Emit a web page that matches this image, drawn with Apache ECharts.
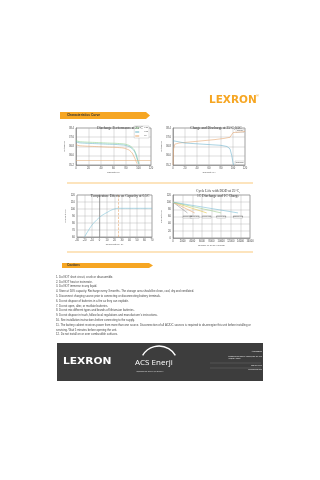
<!DOCTYPE html>
<html><head><meta charset="utf-8">
<script src="https://cdn.jsdelivr.net/npm/echarts@6/dist/echarts.min.js"></script>
<style>html,body{margin:0;padding:0;background:#fff}#c{width:320px;height:480px}</style>
</head><body><div id="c"></div>
<script>
// ---- data ----
const dis02 = [[0,37.35],[3,37.25],[10,37.2],[30,37.15],[50,37.1],[70,37.05],[82,36.95],[90,36.7],[95,36.3],[99,35.6],[101,35.3]];
const dis05 = [[0,37.25],[3,37.15],[10,37.1],[30,37.05],[50,37.0],[70,36.95],[82,36.85],[90,36.6],[95,36.2],[99,35.5],[100,35.3]];
const dis1c = [[0,37.0],[3,36.9],[10,36.85],[30,36.8],[50,36.75],[70,36.7],[80,36.6],[88,36.35],[93,35.9],[97,35.4],[98,35.3]];
const chargeCurve = [[0,35.2],[1,36.6],[3,37.0],[10,37.1],[30,37.2],[50,37.3],[70,37.4],[85,37.5],[95,37.6],[100,38.0],[102,38.1],[120,38.1]];
const dischargeCurve = [[0,37.3],[3,37.2],[20,37.1],[50,37.0],[80,36.9],[90,36.8],[95,36.6],[98,36.0],[100,35.4],[101,35.2]];
const tempCurve = [[-20,60],[-15,69],[-10,77],[-5,83],[0,88],[5,92],[10,95],[15,98],[20,100],[25,101],[30,101],[40,101],[50,101],[60,101],[70,101]];
const dodLabels = ['100%DOD','80%DOD','60%DOD','50%DOD','30%DOD'];
const dodEnd = [3000, 4500, 7000, 10000, 13500];
const dodCycleText = ['3000cycles','4500cycles','7000cycles','10000cycles','13500cycles'];
const cautions = [
'1. Do NOT short circuit, crush or disassemble.',
'2. Do NOT heat or incinerate.',
'3. Do NOT immerse in any liquid.',
'4. Store at 50% capacity. Recharge every 3 months. The storage area should be clean, cool, dry and ventilated.',
'5. Disconnect charging source prior to connecting or disconnecting battery terminals.',
'6. Do not dispose of batteries in a fire as they can explode.',
'7. Do not open, alter, or mutilate batteries.',
'8. Do not mix different types and brands of lithium-ion batteries.',
'9. Do not dispose in trash, follow local regulations and manufacturer\'s instructions.',
'10. See installation instructions before connecting to the supply.',
'11. The battery cabinet receives power from more than one source. Disconnection of all AC/DC sources is required to de-energize this unit before installing or',
'servicing. Wait 5 minutes before opening the unit.',
'12. Do not install on or over combustible surfaces.'
];
// ---- chart ----
const ORANGE = '#F6A623';
const AXF = 2.6;
const chart = echarts.init(document.getElementById('c'), null, {renderer:'canvas'});
function xa(i, min, max, interval, name){
  return {gridIndex:i, type:'value', min, max, interval, name, nameLocation:'middle', nameGap:5,
    nameTextStyle:{fontSize:2.4,color:'#555'},
    axisLine:{lineStyle:{color:'#666',width:0.5}}, axisTick:{show:false},
    axisLabel:{fontSize:AXF,color:'#444',margin:2,formatter:v=>String(v)},
    splitLine:{show:true,lineStyle:{color:'#aaa',width:0.4}}};
}
function ya(i, min, max, interval, name, fmt){
  return {gridIndex:i, type:'value', min, max, interval, name, nameLocation:'middle', nameGap:9,
    nameTextStyle:{fontSize:2.4,color:'#555'},
    axisLine:{show:true,lineStyle:{color:'#666',width:0.5}}, axisTick:{show:false},
    axisLabel:{fontSize:AXF,color:'#444',margin:2,formatter:fmt},
    splitLine:{show:true,lineStyle:{color:'#aaa',width:0.4}}};
}
const ttl = (text, left, top) => ({text, left, top, textAlign:'center',
  textStyle:{fontSize:3.6,fontWeight:'normal',fontFamily:'Liberation Serif',color:'#333',lineHeight:5}});
const ln = (x, y, name, data, color, extra) => Object.assign({type:'line', name, data, xAxisIndex:x, yAxisIndex:y,
  showSymbol:false, smooth:true, lineStyle:{color, width:0.6}, itemStyle:{color}}, extra||{});

const dodColors = ['#9a9a9a','#e8a66b','#e6c84a','#9fcf8e','#7cbfd6'];
const dodSeries = dodLabels.map((n,i)=>ln(3,3,n,[[0,100],[dodEnd[i],70]],dodColors[i],{smooth:false,
  markPoint:{symbol:'rect',symbolSize:[9,2.4],symbolOffset:[0,4],itemStyle:{color:'#fff',borderColor:'#888',borderWidth:0.3},
   label:{show:true,fontSize:1.8,color:'#444',formatter:dodCycleText[i]},data:[{coord:[dodEnd[i],70]}]}}));

const graphic = [
  {type:'text', left:209, top:95, style:{text:'LEXRON', fontSize:10.5, fontWeight:'bold', fontFamily:'DejaVu Sans', fill:ORANGE}},
  {type:'text', left:256, top:94, style:{text:'®', fontSize:4, fill:ORANGE}},
  {type:'polygon', shape:{points:[[60,112],[146,112],[150,115.5],[146,119],[60,119]]}, style:{fill:ORANGE}},
  {type:'text', left:67, top:114, style:{text:'Characteristics Curve', fontSize:3.2, fontWeight:'bold', fill:'#333'}},
  {type:'line', shape:{x1:67,y1:183,x2:253,y2:183}, style:{stroke:ORANGE,lineWidth:0.6}},
  {type:'line', shape:{x1:67,y1:252,x2:253,y2:252}, style:{stroke:ORANGE,lineWidth:0.6}},
  {type:'polygon', shape:{points:[[62,263],[149,263],[153,265.5],[149,268],[62,268]]}, style:{fill:ORANGE}},
  {type:'text', left:67, top:264, style:{text:'Cautions', fontSize:3, fontWeight:'bold', fill:'#333'}},
  {type:'rect', shape:{x:57,y:343,width:206,height:38}, style:{fill:'#3d3d3d'}},
  {type:'text', left:63, top:357, scaleX:1.12, style:{text:'LEXRON', fontSize:9.5, fontWeight:'bold', fontFamily:'DejaVu Sans', fill:'#fff'}},
  {type:'arc', shape:{cx:159,cy:365,r:19,startAngle:Math.PI*1.17,endAngle:Math.PI*1.83}, style:{stroke:'#fff',lineWidth:1.4,fill:null}},
  {type:'text', left:135, top:359, style:{text:'ACS Enerji', fontSize:8, fontFamily:'Open Sans', fill:'#fff'}},
  {type:'text', left:136, top:371, style:{text:'Yaşanabilir Bir Dünya İçin Enerjiye', fontSize:1.8, fill:'#ddd'}},
  {type:'text', right:58, top:351, style:{text:'ACS ENERJİ', fontSize:1.8, fill:'#eee', align:'right'}},
  {type:'text', right:58, top:355, style:{text:'1938/2008 Mah. Ekrem Alanlıkoç Cad. No: 14/1\nYenişehir / İZMİR', fontSize:1.6, fill:'#eee', align:'right', lineHeight:2.2}},
  {type:'line', shape:{x1:210,y1:363,x2:261,y2:363}, style:{stroke:'#888',lineWidth:0.3}},
  {type:'text', right:58, top:365, style:{text:'0232 700 00 00', fontSize:1.6, fill:'#eee', align:'right'}},
  {type:'line', shape:{x1:210,y1:368,x2:261,y2:368}, style:{stroke:'#888',lineWidth:0.3}},
  {type:'text', right:58, top:369, style:{text:'www.acsenerji.com', fontSize:1.6, fill:'#eee', align:'right'}},
  {type:'rect', shape:{x:236,y:129,width:8,height:3.5}, style:{fill:'#fff',stroke:'#999',lineWidth:0.3}},
  {type:'text', left:237, top:129.6, style:{text:'Charge', fontSize:1.8, fill:'#444'}},
  {type:'rect', shape:{x:235,y:161,width:9.5,height:3.5}, style:{fill:'#fff',stroke:'#999',lineWidth:0.3}},
  {type:'text', left:235.7, top:161.6, style:{text:'Discharge', fontSize:1.8, fill:'#444'}}
];
cautions.forEach((t,i)=>graphic.push({type:'text', left:56, top:275.5+i*4.8, style:{text:t, fontSize:2.8, fontFamily:'Liberation Sans', fill:'#444'}}));

chart.setOption({
  animation:false,
  title:[
    ttl('Discharge Performance at 25°C',115,121),
    ttl('Charge and Discharge at 25°C,0.5C',211,121),
    ttl('Temperature Effects on Capacity at 0.5C',115,189),
    ttl('Cycle Life with DOD at 25°C,\n1C Discharge and 1C Charge',213,184)
  ],
  legend:{show:true, data:['0.2C','0.5C','1C'], right:171, top:126, orient:'vertical', itemWidth:4, itemHeight:1, itemGap:2,
    padding:1, borderColor:'#999', borderWidth:0.3, backgroundColor:'#fff', textStyle:{fontSize:1.8,color:'#444'}, icon:'rect'},
  grid:[
    {left:76, top:128, width:75, height:37, show:true, borderColor:'#666', borderWidth:0.5},
    {left:173, top:128, width:72, height:37, show:true, borderColor:'#666', borderWidth:0.5},
    {left:77, top:195, width:75, height:42, show:true, borderColor:'#666', borderWidth:0.5},
    {left:173, top:195, width:77, height:43, show:true, borderColor:'#666', borderWidth:0.5}
  ],
  xAxis:[xa(0,0,120,20,'Capacity(%)'), xa(1,0,120,20,'Capacity(%)'), xa(2,-30,70,10,'Temperature(°C)'), xa(3,0,16000,2000,'Number of Cycle (Cycles)')],
  yAxis:[ya(0,35.2,38.4,0.8,'Voltage(V)',v=>v.toFixed(1)), ya(1,35.2,38.4,0.8,'Voltage(V)',v=>v.toFixed(1)), ya(2,60,120,10,'Capacity(%)'), ya(3,0,120,20,'Capacity(%)')],
  graphic,
  series:[
    ln(0,0,'0.2C',dis02,'#8fd18f'),
    ln(0,0,'0.5C',dis05,'#6ab6c9'),
    ln(0,0,'1C',dis1c,'#e8a66b',{markLine:{silent:true,symbol:'none',label:{show:false},lineStyle:{color:'#e0b080',width:0.6,type:'solid'},data:[{yAxis:35.6}]}}),
    ln(1,1,'Charge',chargeCurve,'#e5a873',{smooth:false}),
    ln(1,1,'Discharge',dischargeCurve,'#6fb3cf',{smooth:false}),
    ln(2,2,'Temp',tempCurve,'#7cc3d8',{markLine:{silent:true,symbol:'none',label:{show:false},lineStyle:{color:'#e8a66b',width:0.6,type:'dashed'},data:[{xAxis:25}]}}),
    ...dodSeries
  ]
});
</script></body></html>
